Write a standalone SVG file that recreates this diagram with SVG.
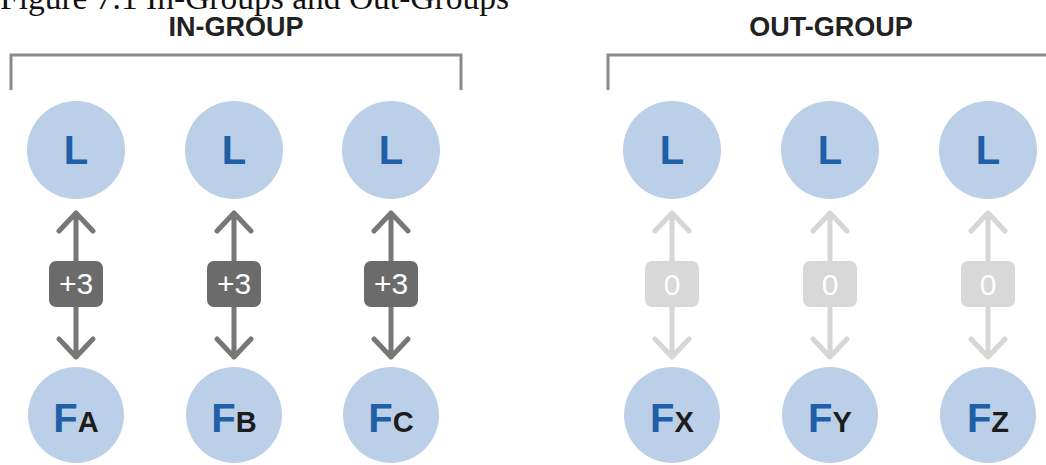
<svg xmlns="http://www.w3.org/2000/svg" width="1046" height="465" viewBox="0 0 1046 465">
<defs>
<style>
.title{font-family:"Liberation Serif",serif;font-size:33.5px;fill:#111}
.hdr{font-family:"Liberation Sans",Arial,sans-serif;font-weight:bold;font-size:27px;fill:#222;text-anchor:middle}
.brk{fill:none;stroke:#8a8a8a;stroke-width:3}
.node circle{fill:#bccfe8}
.lbl{font-family:"Liberation Sans",Arial,sans-serif;font-weight:bold;font-size:40px;fill:#1f5fa8;text-anchor:middle}
.sub{font-size:29px;fill:#1c1c1c}
.dk{stroke:#777;fill:none;stroke-width:5;stroke-linecap:round;stroke-linejoin:round}
.lt{stroke:#d6d6d6;fill:none;stroke-width:5;stroke-linecap:round;stroke-linejoin:round}
.dkbox{fill:#6b6b6b}
.ltbox{fill:#d8d8d8}
.val{font-family:"Liberation Sans",Arial,sans-serif;font-size:30px;fill:#fff;text-anchor:middle}
</style>
<g id="dkArrow">
<path class="dk" d="M0,213 V261 M-17,231 L0,213 L17,231 M0,307 V357 M-17,339 L0,357 L17,339"/>
<rect class="dkbox" x="-27" y="261" width="54" height="46" rx="7"/>
</g>
<g id="ltArrow">
<path class="lt" d="M0,213 V261 M-17,231 L0,213 L17,231 M0,307 V357 M-17,339 L0,357 L17,339"/>
<rect class="ltbox" x="-27" y="261" width="54" height="46" rx="7"/>
</g>
</defs>
<rect width="1046" height="465" fill="#fff"/>
<text class="title" x="0" y="9">Figure 7.1 In-Groups and Out-Groups</text>
<g id="in-group-header">
<text class="hdr" x="236" y="36">IN-GROUP</text>
<path class="brk" d="M11,90 V55 H461 V90"/>
</g>
<g id="out-group-header">
<text class="hdr" x="831" y="36">OUT-GROUP</text>
<path class="brk" d="M608,90 V55 H1050"/>
</g>
<g id="connectors">
<g transform="translate(76,0)"><use href="#dkArrow"/><text class="val" x="0" y="294">+3</text></g>
<g transform="translate(234,0)"><use href="#dkArrow"/><text class="val" x="0" y="294">+3</text></g>
<g transform="translate(391,0)"><use href="#dkArrow"/><text class="val" x="0" y="294">+3</text></g>
<g transform="translate(672,0)"><use href="#ltArrow"/><text class="val" x="0" y="295">0</text></g>
<g transform="translate(830,0)"><use href="#ltArrow"/><text class="val" x="0" y="295">0</text></g>
<g transform="translate(988,0)"><use href="#ltArrow"/><text class="val" x="0" y="295">0</text></g>
</g>
<g id="L1" class="node"><circle cx="76" cy="150" r="49"/><text class="lbl" x="76" y="164">L</text></g>
<g id="L2" class="node"><circle cx="234" cy="150" r="49"/><text class="lbl" x="234" y="164">L</text></g>
<g id="L3" class="node"><circle cx="391" cy="150" r="49"/><text class="lbl" x="391" y="164">L</text></g>
<g id="L4" class="node"><circle cx="672" cy="150" r="49"/><text class="lbl" x="672" y="164">L</text></g>
<g id="L5" class="node"><circle cx="830" cy="150" r="49"/><text class="lbl" x="830" y="164">L</text></g>
<g id="L6" class="node"><circle cx="988" cy="150" r="49"/><text class="lbl" x="988" y="164">L</text></g>
<g id="FA" class="node"><circle cx="76" cy="415" r="48"/><text class="lbl" x="76" y="432">F<tspan class="sub">A</tspan></text></g>
<g id="FB" class="node"><circle cx="234" cy="415" r="48"/><text class="lbl" x="234" y="432">F<tspan class="sub">B</tspan></text></g>
<g id="FC" class="node"><circle cx="391" cy="415" r="48"/><text class="lbl" x="391" y="432">F<tspan class="sub">C</tspan></text></g>
<g id="FX" class="node"><circle cx="672" cy="415" r="48"/><text class="lbl" x="672" y="432">F<tspan class="sub">X</tspan></text></g>
<g id="FY" class="node"><circle cx="830" cy="415" r="48"/><text class="lbl" x="830" y="432">F<tspan class="sub">Y</tspan></text></g>
<g id="FZ" class="node"><circle cx="988" cy="415" r="48"/><text class="lbl" x="988" y="432">F<tspan class="sub">Z</tspan></text></g>
</svg>
